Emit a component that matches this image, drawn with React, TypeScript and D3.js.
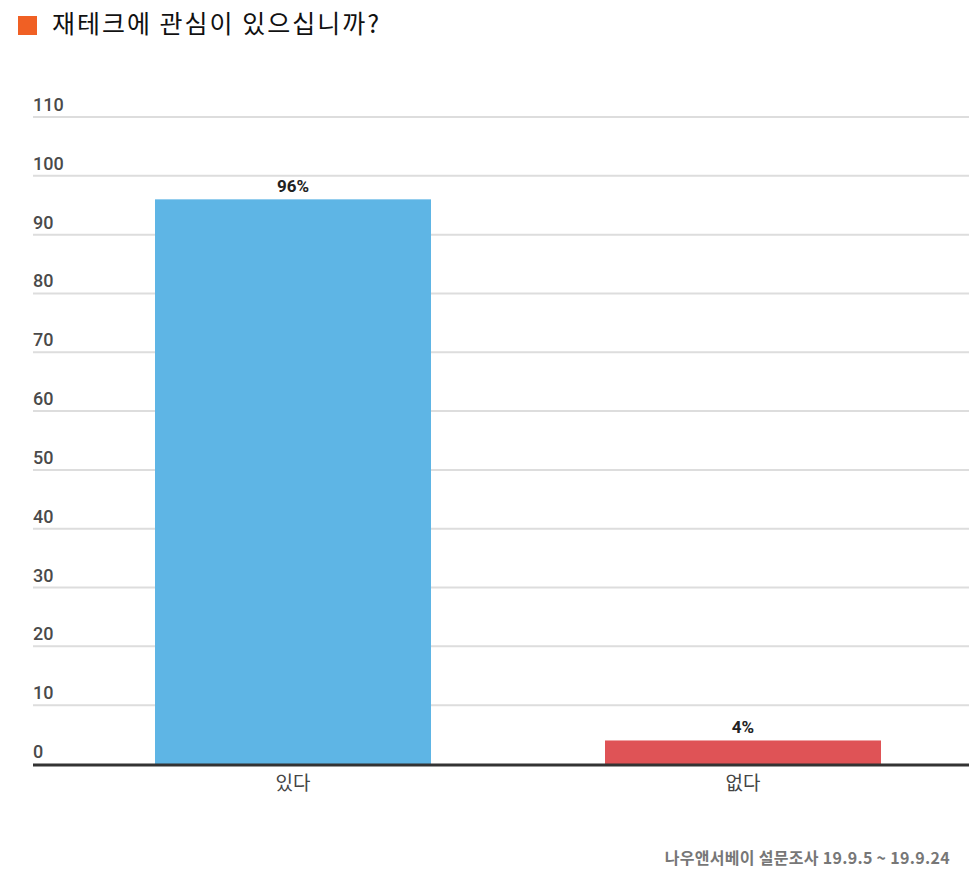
import React from "react";
import * as d3 from "d3";

const categories = ["있다", "없다"];
const values = [96, 4];
const valueLabels = ["96%", "4%"];
const barColors = ["#5EB5E5", "#DF5356"];
const yTicks = [0, 10, 20, 30, 40, 50, 60, 70, 80, 90, 100, 110];
const title = "재테크에 관심이 있으십니까?";
const source = "나우앤서베이 설문조사 19.9.5 ~ 19.9.24";

export default function App() {
  const W = 969, H = 879;
  const y = d3.scaleLinear().domain([0, 110]).range([764, 117]);
  const p = 0.3867;
  const x = d3.scaleBand<string>().domain(categories).range([68, 968]).paddingInner(p).paddingOuter(p / 2);
  const kr = "'Noto Sans CJK KR', 'Noto Sans', sans-serif";
  return (
    <svg width={W} height={H} style={{ position: "absolute", left: 0, top: 0, background: "#fff" }}>
      <rect x={18} y={16} width={19} height={19} fill="#F06024" />
      <text x={52} y={33} fontFamily={kr} fontSize={25} letterSpacing={2} fill="#111">{title}</text>
      {yTicks.map((t) => (
        <g key={t}>
          {t > 0 && <line x1={33} x2={969} y1={y(t)} y2={y(t)} stroke="#DDDDDD" strokeWidth={2} />}
          <text x={33} y={y(t) - 6} fontFamily="Roboto, sans-serif" fontWeight={500} fontSize={18} fill="#4a4a4a">{t}</text>
        </g>
      ))}
      {categories.map((c, i) => (
        <g key={c}>
          <rect x={x(c)} y={y(values[i])} width={x.bandwidth()} height={y(0) - y(values[i])} fill={barColors[i]} />
          <text x={(x(c) as number) + x.bandwidth() / 2} y={y(values[i]) - 7} textAnchor="middle" fontFamily="Roboto, sans-serif" fontWeight={700} fontSize={17} fill="#222">{valueLabels[i]}</text>
          <text x={(x(c) as number) + x.bandwidth() / 2} y={790} textAnchor="middle" fontFamily={kr} fontSize={19} fill="#444">{c}</text>
        </g>
      ))}
      <line x1={33} x2={969} y1={y(0) + 1} y2={y(0) + 1} stroke="#333" strokeWidth={3} />
      <text x={950} y={864} textAnchor="end" fontFamily={kr} fontWeight={700} fontSize={16} letterSpacing={0.3} fill="#777">{source}</text>
    </svg>
  );
}
